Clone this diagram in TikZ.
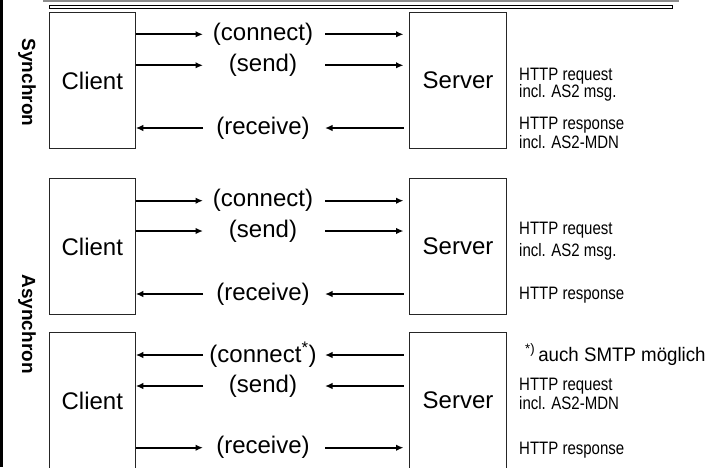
\documentclass[tikz,border=0pt]{standalone}
\usepackage{fontspec}
\setmainfont{Liberation Sans}
\usetikzlibrary{arrows.meta, positioning}
\newcommand{\bigtxt}{\fontsize{24}{26}\selectfont}
\newcommand{\sidetxt}{\fontsize{15}{17}\selectfont}
\newcommand{\modetxt}{\bfseries\fontsize{19}{21}\selectfont}
\newcommand{\tall}[1]{\scalebox{1}[1.2]{#1}}

\begin{document}
\begin{tikzpicture}[
        x=1pt, y=-1pt,
        client/.style={rectangle, draw=black!85, line width=1pt, minimum width=86pt, minimum height=136pt, inner sep=0pt, font=\bigtxt},
        server/.style={client, minimum width=97pt, outer sep=6pt},
        msgarrow/.style={-{Latex[length=7.5pt, width=6.5pt]}, line width=2pt},
        msglabel/.style={inner sep=0pt, font=\bigtxt},
        side/.style={anchor=base west, inner sep=0pt, font=\sidetxt},
        mode/.style={rotate=-90, inner sep=0pt, font=\modetxt}
    ]
        \useasboundingbox (0,0) rectangle (720,467);
        % frame pieces
        \fill[gray!90] (43,-1) rectangle (679,1.8);
        \draw[line width=1pt, fill=white] (49.3,5) rectangle (672.5,8.2);
        \draw[line width=2.7pt] (1.35,0) -- (1.35,467);
        \node[mode] (syn) at (27,82.5) {Synchron};
        \node[mode] (asyn) at (27,324) {Asynchron};

        % synchron
        \node[client] (cliA) at (92.3,80.7) {Client};
        \node[server] (srvA) at (458,80.7) {Server};
        \coordinate (a1l) at (203,34.3); \coordinate (a1r) at (325,34.3);
        \coordinate (a2l) at (203,65.3); \coordinate (a2r) at (325,65.3);
        \coordinate (a3l) at (203,128); \coordinate (a3r) at (325,128);
        \node[msglabel] (a1) at (263,34.3) {(connect)};
        \node[msglabel] (a2) at (263,65.3) {(send)};
        \node[msglabel] (a3) at (263,128) {(receive)};
        \draw[msgarrow] (cliA.east |- a1l) -- (a1l);
        \draw[msgarrow] (a1r) -- (srvA.west |- a1r);
        \draw[msgarrow] (cliA.east |- a2l) -- (a2l);
        \draw[msgarrow] (a2r) -- (srvA.west |- a2r);
        \draw[msgarrow] (a3l) -- (cliA.east |- a3l);
        \draw[msgarrow] (srvA.west |- a3r) -- (a3r);
        \node[side] (reqA) at (519,80) {\tall{HTTP request}};
        \node[side] (msgA) at (519,97.5) {\tall{incl. AS2 msg.}};
        \node[side] (resA) at (519,129.5) {\tall{HTTP response}};
        \node[side] (mdnA) at (519,148) {\tall{incl. AS2-MDN}};

        % asynchron, request
        \node[client] (cliB) at (92.3,246.5) {Client};
        \node[server] (srvB) at (458,246.5) {Server};
        \coordinate (b1l) at (203,200.7); \coordinate (b1r) at (325,200.7);
        \coordinate (b2l) at (203,231); \coordinate (b2r) at (325,231);
        \coordinate (b3l) at (203,294); \coordinate (b3r) at (325,294);
        \node[msglabel] (b1) at (263,200.7) {(connect)};
        \node[msglabel] (b2) at (263,231) {(send)};
        \node[msglabel] (b3) at (263,294) {(receive)};
        \draw[msgarrow] (cliB.east |- b1l) -- (b1l);
        \draw[msgarrow] (b1r) -- (srvB.west |- b1r);
        \draw[msgarrow] (cliB.east |- b2l) -- (b2l);
        \draw[msgarrow] (b2r) -- (srvB.west |- b2r);
        \draw[msgarrow] (b3l) -- (cliB.east |- b3l);
        \draw[msgarrow] (srvB.west |- b3r) -- (b3r);
        \node[side] (reqB) at (519,234) {\tall{HTTP request}};
        \node[side] (msgB) at (519,256) {\tall{incl. AS2 msg.}};
        \node[side] (resB) at (519,299) {\tall{HTTP response}};

        % asynchron, MDN back
        \node[client] (cliC) at (92.3,400.5) {Client};
        \node[server] (srvC) at (458,400.5) {Server};
        \coordinate (c1l) at (203,355); \coordinate (c1r) at (325,355);
        \coordinate (c2l) at (203,386); \coordinate (c2r) at (325,386);
        \coordinate (c3l) at (203,447.7); \coordinate (c3r) at (325,447.7);
        \node[msglabel] (c1) at (263,355) {(connect\textsuperscript{*})};
        \node[msglabel] (c2) at (263,386) {(send)};
        \node[msglabel] (c3) at (263,447.7) {(receive)};
        \draw[msgarrow] (c1l) -- (cliC.east |- c1l);
        \draw[msgarrow] (srvC.west |- c1r) -- (c1r);
        \draw[msgarrow] (c2l) -- (cliC.east |- c2l);
        \draw[msgarrow] (srvC.west |- c2r) -- (c2r);
        \draw[msgarrow] (cliC.east |- c3l) -- (c3l);
        \draw[msgarrow] (c3r) -- (srvC.west |- c3r);
        \node[side] (note) at (525,361) {\scalebox{1.1}[1.15]{\fontsize{17}{19}\selectfont\textsuperscript{*)}\,auch SMTP möglich}};
        \node[side] (reqC) at (519,390) {\tall{HTTP request}};
        \node[side] (mdnC) at (519,409) {\tall{incl. AS2-MDN}};
        \node[side] (resC) at (519,454) {\tall{HTTP response}};
    \end{tikzpicture}
\end{document}
